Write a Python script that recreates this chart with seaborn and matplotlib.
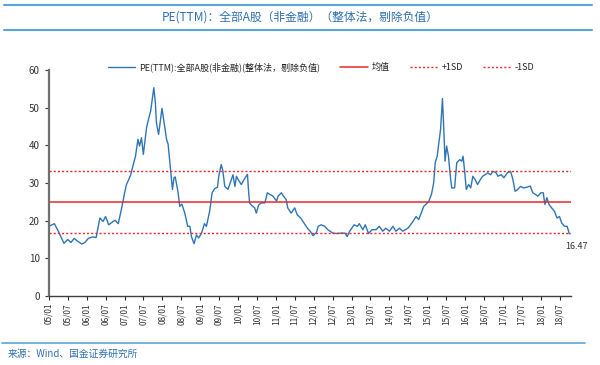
import matplotlib
matplotlib.use("Agg")
import matplotlib.pyplot as plt
from matplotlib.lines import Line2D
import numpy as np
import pandas as pd
import seaborn as sns

# ---------------- data ----------------
dates = [
    "2005-01-01", "2005-02-22", "2005-04-01", "2005-05-25", "2005-07-01", "2005-08-01",
    "2005-09-01", "2005-10-01", "2005-11-13", "2005-12-13", "2006-01-16", "2006-03-01",
    "2006-04-01", "2006-05-07", "2006-06-07", "2006-07-01", "2006-08-01", "2006-09-13",
    "2006-10-01", "2006-11-01", "2006-12-07", "2007-01-01", "2007-01-19", "2007-02-10",
    "2007-03-01", "2007-03-22", "2007-04-16", "2007-05-10", "2007-05-25", "2007-06-13",
    "2007-07-01", "2007-08-01", "2007-08-16", "2007-09-10", "2007-10-10", "2007-10-25",
    "2007-11-04", "2007-11-25", "2007-12-28", "2008-01-22", "2008-02-10", "2008-02-25",
    "2008-03-22", "2008-04-07", "2008-04-22", "2008-05-04", "2008-06-01", "2008-06-16",
    "2008-07-07", "2008-08-04", "2008-09-01", "2008-09-22", "2008-10-07", "2008-11-01",
    "2008-11-25", "2008-12-16", "2009-01-13", "2009-02-10", "2009-03-01", "2009-04-01",
    "2009-04-25", "2009-05-19", "2009-06-16", "2009-06-28", "2009-07-22", "2009-08-07",
    "2009-08-25", "2009-09-25", "2009-10-28", "2009-11-13", "2009-12-01", "2009-12-16",
    "2010-01-01", "2010-02-01", "2010-02-27", "2010-04-01", "2010-04-13", "2010-04-22",
    "2010-05-13", "2010-06-10", "2010-06-25", "2010-07-19", "2010-08-13", "2010-09-16",
    "2010-10-10", "2010-11-01", "2010-12-04", "2011-01-07", "2011-01-22", "2011-02-22",
    "2011-03-16", "2011-04-10", "2011-04-25", "2011-05-28", "2011-07-01", "2011-07-25",
    "2011-08-28", "2011-09-28", "2011-11-01", "2011-12-01", "2011-12-25", "2012-01-28",
    "2012-02-13", "2012-03-13", "2012-04-16", "2012-05-16", "2012-07-04", "2012-08-04",
    "2012-09-25", "2012-10-28", "2012-11-19", "2012-12-13", "2013-01-25", "2013-02-25",
    "2013-03-16", "2013-04-19", "2013-05-13", "2013-06-13", "2013-07-16", "2013-08-25",
    "2013-09-25", "2013-10-28", "2013-11-28", "2014-01-01", "2014-02-04", "2014-03-04",
    "2014-04-07", "2014-05-10", "2014-06-28", "2014-07-13", "2014-08-16", "2014-09-16",
    "2014-10-10", "2014-11-04", "2014-11-28", "2014-12-22", "2015-01-13", "2015-02-10",
    "2015-03-04", "2015-03-19", "2015-04-07", "2015-04-22", "2015-05-10", "2015-05-28",
    "2015-06-07", "2015-06-22", "2015-07-07", "2015-07-25", "2015-08-10", "2015-08-25",
    "2015-09-22", "2015-10-13", "2015-11-10", "2015-12-01", "2015-12-13", "2015-12-28",
    "2016-01-13", "2016-02-04", "2016-02-25", "2016-03-16", "2016-04-07", "2016-05-01",
    "2016-05-28", "2016-06-19", "2016-07-13", "2016-08-07", "2016-09-04", "2016-09-25",
    "2016-10-28", "2016-11-13", "2016-12-16", "2017-01-10", "2017-02-13", "2017-03-16",
    "2017-04-07", "2017-04-28", "2017-05-25", "2017-06-19", "2017-07-19", "2017-08-22",
    "2017-09-22", "2017-10-16", "2017-11-10", "2017-12-04", "2018-01-01", "2018-01-25",
    "2018-02-10", "2018-03-01", "2018-03-22", "2018-04-16", "2018-05-13", "2018-06-07",
    "2018-07-01", "2018-07-22", "2018-08-19", "2018-09-13", "2018-10-04",
]
pe_values = [
    18.5, 19.2, 17.2, 14.0, 15.0, 14.2,
    15.3, 14.6, 13.8, 14.2, 15.3, 15.7,
    15.5, 20.7, 19.8, 21.1, 18.9, 19.8,
    20.1, 19.2, 23.8, 27.4, 29.6, 30.9,
    32.2, 34.5, 37.1, 41.6, 39.8, 42.0,
    37.6, 44.7, 46.5, 49.2, 55.3, 51.3,
    46.0, 42.9, 49.8, 45.1, 41.6, 40.3,
    32.7, 28.3, 31.4, 31.6, 27.4, 23.8,
    24.4, 22.0, 18.5, 18.5, 15.8, 13.9,
    16.2, 15.4, 16.7, 19.2, 18.5, 22.5,
    27.4, 28.5, 28.9, 31.8, 34.9, 33.2,
    29.1, 28.3, 30.9, 32.2, 29.1, 31.8,
    30.9, 29.6, 30.9, 32.3, 27.4, 24.7,
    24.0, 23.4, 22.0, 24.2, 24.7, 24.7,
    27.4, 27.0, 26.5, 25.2, 26.5, 27.4,
    26.5, 25.6, 23.4, 22.0, 23.4, 21.6,
    20.7, 19.4, 18.0, 17.1, 16.0, 16.9,
    18.5, 18.9, 18.5, 17.6, 16.7, 16.6,
    16.7, 16.7, 15.8, 17.2, 18.9, 18.5,
    19.2, 17.6, 18.9, 16.6, 17.6, 17.6,
    18.5, 17.2, 18.0, 17.2, 18.5, 17.2,
    18.0, 17.2, 18.0, 18.5, 19.8, 21.1,
    20.3, 22.0, 23.8, 24.4, 25.0, 26.9,
    30.0, 35.4, 37.1, 40.3, 44.3, 52.4,
    46.1, 35.8, 39.8, 37.1, 32.3, 28.7,
    28.7, 35.4, 36.2, 35.8, 37.1, 33.2,
    28.3, 29.6, 28.7, 31.8, 30.9, 29.6,
    30.9, 31.8, 32.2, 32.7, 32.2, 33.1,
    32.7, 31.8, 32.2, 31.4, 32.7, 33.1,
    30.9, 27.8, 28.3, 29.1, 28.7, 28.9,
    29.2, 27.4, 27.0, 26.5, 27.4, 27.4,
    24.3, 26.1, 24.3, 23.4, 22.5, 20.7,
    21.1, 19.4, 18.5, 18.5, 16.47,
]
mean_value = 25.0
plus_1sd = 33.3
minus_1sd = 16.7
last_label = "16.47"

series_name = "PE(TTM):全部A股(非金融)(整体法，剔除负值)"
title_text = "PE(TTM)：全部A股（非金融）（整体法，剔除负值）"
source_text = "来源：Wind、国金证券研究所"

# ---------------- style ----------------
sns.set_style("white")
plt.rcParams["font.family"] = ["Noto Sans CJK SC", "DejaVu Sans"]
plt.rcParams["axes.unicode_minus"] = False

df = pd.DataFrame({"date": pd.to_datetime(dates), "pe": pe_values})

fig = plt.figure(figsize=(6.0, 3.65), dpi=100)
ax = fig.add_axes([49 / 600, 1 - 296 / 365, (571 - 49) / 600, (296 - 70) / 365])

line_blue = "#2E75B6"
red = "#E8282B"

sns.lineplot(data=df, x="date", y="pe", ax=ax, color=line_blue, linewidth=1.0,
             label=series_name, legend=False)
ax.axhline(mean_value, color=red, linewidth=1.1, label="均值")
ax.axhline(plus_1sd, color=red, linewidth=1.0, linestyle=(0, (1.5, 1.5)), label="+1SD")
ax.axhline(minus_1sd, color=red, linewidth=1.0, linestyle=(0, (1.5, 1.5)), label="-1SD")

x0 = pd.Timestamp("2005-01-01")
x1 = pd.Timestamp("2018-10-20")
ax.set_xlim(x0, x1)
ax.set_ylim(0, 60)
ax.set_yticks(np.arange(0, 61, 10))

ticks = pd.date_range("2005-01-01", "2018-07-01", freq="6MS")
ax.set_xticks(ticks)
ax.set_xticklabels([t.strftime("%y/%m") for t in ticks], rotation=90, fontsize=6,
                   color="#333333")
ax.tick_params(axis="y", labelsize=7, colors="#333333", length=3, width=0.8, left=True)
ax.tick_params(axis="x", length=3, width=0.8, bottom=True, pad=2)
ax.set_xlabel("")
ax.set_ylabel("")

for side in ["top", "right"]:
    ax.spines[side].set_visible(False)
ax.spines["left"].set_color("#707070")
ax.spines["left"].set_linewidth(1.6)
ax.spines["bottom"].set_color("#404040")
ax.spines["bottom"].set_linewidth(1.0)

# end label
ax.annotate(last_label, xy=(df["date"].iloc[-1], df["pe"].iloc[-1]),
            xytext=(5, -9), textcoords="offset points", fontsize=6.5,
            color="#333333", ha="center", va="center")

# legend
handles, labels = ax.get_legend_handles_labels()
leg = fig.legend(handles, labels, loc="center", bbox_to_anchor=(0.535, 1 - 67 / 365),
                 ncol=4, frameon=False, fontsize=6.5, handlelength=3.0,
                 columnspacing=2.2, handletextpad=0.5)
for t in leg.get_texts():
    t.set_color("#222222")

# header / footer decoration
bar_color = "#5AA7D6"
fig.add_artist(Line2D([4 / 600, 592 / 600], [1 - 5 / 365, 1 - 5 / 365],
                      color=bar_color, linewidth=1.5, transform=fig.transFigure))
fig.add_artist(Line2D([4 / 600, 592 / 600], [1 - 30 / 365, 1 - 30 / 365],
                      color=bar_color, linewidth=1.5, transform=fig.transFigure))
fig.add_artist(Line2D([2 / 600, 585 / 600], [1 - 343 / 365, 1 - 343 / 365],
                      color=bar_color, linewidth=1.2, transform=fig.transFigure))
fig.text(0.5, 1 - 17 / 365, title_text, ha="center", va="center", fontsize=8.5,
         color="#2E6FB0")
fig.text(8 / 600, 1 - 354 / 365, source_text, ha="left", va="center", fontsize=7,
         color="#2E6FB0", style="italic")

fig.savefig("out.png", dpi=100, facecolor="white")
